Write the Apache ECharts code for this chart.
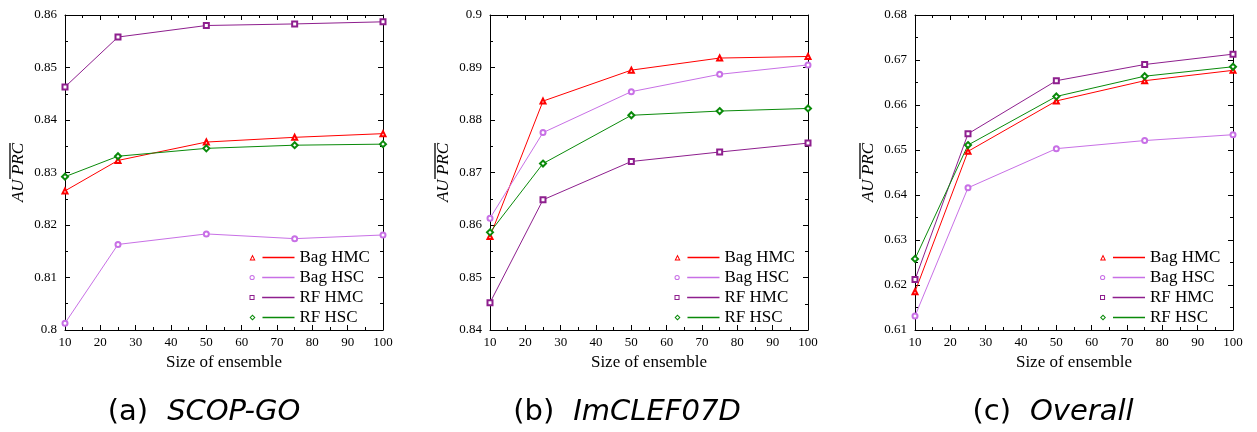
<!DOCTYPE html>
<html>
<head>
<meta charset="utf-8">
<script src="https://cdn.jsdelivr.net/npm/echarts@6/dist/echarts.min.js"></script>
<style>
html,body{margin:0;padding:0;background:#fff;}
#chart{width:1257px;height:432px;}
</style>
</head>
<body>
<div id="chart"></div>
<script>
// ---- data ----
const sizes = [10, 25, 50, 75, 100];
const seriesNames = ['Bag HMC', 'Bag HSC', 'RF HMC', 'RF HSC'];
const captionLetters = ['(a)', '(b)', '(c)'];
const captionNames = ['SCOP-GO', 'ImCLEF07D', 'Overall'];

const scopBagHMC = [0.8265, 0.8323, 0.8358, 0.8367, 0.8374];
const scopBagHSC = [0.8013, 0.8163, 0.8183, 0.8174, 0.8181];
const scopRfHMC  = [0.8463, 0.8558, 0.8580, 0.8583, 0.8587];
const scopRfHSC  = [0.8292, 0.8331, 0.8346, 0.8352, 0.8354];

const imclefBagHMC = [0.8578, 0.8836, 0.8895, 0.8918, 0.8921];
const imclefBagHSC = [0.8613, 0.8776, 0.8854, 0.8887, 0.8905];
const imclefRfHMC  = [0.8452, 0.8648, 0.8721, 0.8739, 0.8756];
const imclefRfHSC  = [0.8586, 0.8717, 0.8809, 0.8817, 0.8822];

const overallBagHMC = [0.6185, 0.6497, 0.6609, 0.6654, 0.6677];
const overallBagHSC = [0.6131, 0.6416, 0.6503, 0.6521, 0.6534];
const overallRfHMC  = [0.6212, 0.6536, 0.6654, 0.6690, 0.6713];
const overallRfHSC  = [0.6258, 0.6511, 0.6619, 0.6664, 0.6685];

const yMins = [0.80, 0.84, 0.61];
const yMaxs = [0.86, 0.90, 0.68];

// ---- styling ----
const panelData = [
  [scopBagHMC, scopBagHSC, scopRfHMC, scopRfHSC],
  [imclefBagHMC, imclefBagHSC, imclefRfHMC, imclefRfHSC],
  [overallBagHMC, overallBagHSC, overallRfHMC, overallRfHSC]
];
const colors = ['#ff0000', '#c870e6', '#8e1f8e', '#0a8a0a'];
const symbols = ['emptyTriangle', 'emptyCircle', 'emptyRect', 'emptyDiamond'];
const lineSeg = 'M13,2.2H45V3.8H13Z';
const legendIcons = [
  'path://M0,6L3,0L6,6Z M1.6,5.1L4.4,5.1L3,2.2Z ' + lineSeg,
  'path://M0.4,3A2.6,2.6 0 1 1 5.6,3A2.6,2.6 0 1 1 0.4,3Z M1.4,3A1.6,1.6 0 1 0 4.6,3A1.6,1.6 0 1 0 1.4,3Z ' + lineSeg,
  'path://M0.5,0.5H5.5V5.5H0.5Z M1.5,1.5V4.5H4.5V1.5Z ' + lineSeg,
  'path://M3,0L6,3L3,6L0,3Z M3,1.4L1.4,3L3,4.6L4.6,3Z ' + lineSeg
];

const gridLefts = [65, 490, 915];
const gridWidth = 318;
const gridTop = 15;
const gridHeight = 315;
const legendLefts = [249.5, 674.5, 1100];
const captionCenters = [204, 627, 1053];

const serif = 'Liberation Serif';
const grids = [], xAxes = [], yAxes = [], series = [], legends = [], titles = [];

for (let p = 0; p < 3; p++) {
  grids.push({left: gridLefts[p], top: gridTop, width: gridWidth, height: gridHeight});
  const tickCommon = {
    axisLine: {show: true, onZero: false, lineStyle: {color: '#000', width: 1}},
    axisTick: {show: true, inside: true, length: 5, lineStyle: {color: '#000', width: 1}},
    minorTick: {show: true, splitNumber: 2, length: 3, lineStyle: {color: '#000', width: 1}},
    splitLine: {show: false}
  };
  xAxes.push(Object.assign({
    type: 'value', gridIndex: p, position: 'bottom', min: 10, max: 100, interval: 10,
    name: 'Size of ensemble', nameLocation: 'middle', nameGap: 22,
    nameTextStyle: {fontFamily: serif, fontSize: 17, color: '#000'},
    axisLabel: {fontFamily: serif, fontSize: 13, color: '#000', margin: 6}
  }, tickCommon));
  xAxes.push(Object.assign({
    type: 'value', gridIndex: p, position: 'top', min: 10, max: 100, interval: 10,
    axisLabel: {show: false}
  }, tickCommon));
  yAxes.push(Object.assign({
    type: 'value', gridIndex: p, position: 'left', min: yMins[p], max: yMaxs[p], interval: 0.01,
    name: '{ol| }\n{t|AU PRC}', nameLocation: 'middle', nameGap: 39, nameRotate: 90,
    nameTextStyle: {
      color: '#000',
      rich: {
        ol: {width: 36, height: 1.3, lineHeight: 2, backgroundColor: '#000', align: 'right', fontSize: 2},
        t: {fontFamily: serif, fontStyle: 'italic', fontSize: 17, lineHeight: 15, color: '#000'}
      }
    },
    axisLabel: {fontFamily: serif, fontSize: 13, color: '#000', margin: 8}
  }, tickCommon));
  yAxes.push(Object.assign({
    type: 'value', gridIndex: p, position: 'right', min: yMins[p], max: yMaxs[p], interval: 0.01,
    axisLabel: {show: false}
  }, tickCommon));

  for (let s = 0; s < 4; s++) {
    series.push({
      type: 'line', name: seriesNames[s], xAxisIndex: 2 * p, yAxisIndex: 2 * p,
      data: sizes.map((x, i) => [x, panelData[p][s][i]]),
      symbol: symbols[s], symbolSize: s === 3 ? 6 : 5,
      showAllSymbol: true, clip: false,
      lineStyle: {color: colors[s], width: 1},
      itemStyle: {color: colors[s], borderColor: colors[s], borderWidth: 1},
      emphasis: {disabled: true},
      animation: false
    });
  }

  legends.push({
    orient: 'vertical', left: legendLefts[p], top: 249, padding: 0,
    itemWidth: 45, itemHeight: 6, itemGap: 3,
    data: seriesNames.map((n, i) => ({
      name: n, icon: legendIcons[i],
      itemStyle: {color: colors[i], borderColor: colors[i], borderWidth: 0, opacity: 1}
    })),
    textStyle: {fontFamily: serif, fontSize: 17, color: '#000'},
    selectedMode: false
  });

  titles.push({
    text: '{n|' + captionLetters[p] + '}{i|' + captionNames[p] + '}',
    left: captionCenters[p], top: 398, textAlign: 'center', padding: 0,
    textStyle: {
      fontWeight: 'normal',
      rich: {
        n: {fontFamily: 'DejaVu Sans', fontWeight: 'normal', fontSize: 29, color: '#000'},
        i: {fontFamily: 'DejaVu Sans', fontWeight: 'normal', fontStyle: 'italic', fontSize: 29, color: '#000', padding: [0, 0, 0, 19]}
      }
    }
  });
}

const chart = echarts.init(document.getElementById('chart'), null, {renderer: 'canvas'});
chart.setOption({
  animation: false,
  backgroundColor: '#fff',
  title: titles,
  grid: grids,
  xAxis: xAxes,
  yAxis: yAxes,
  legend: legends,
  series: series
});
</script>
</body>
</html>
